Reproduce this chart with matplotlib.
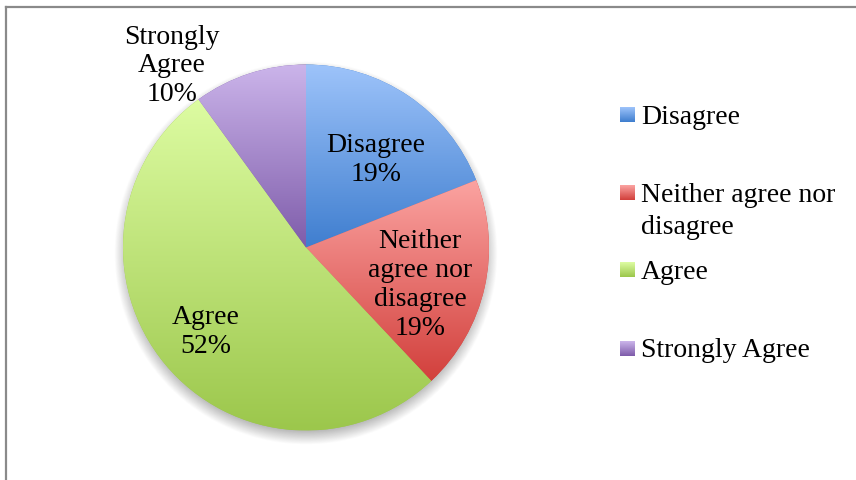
"""Survey response pie chart with gradient slices and a side legend."""

import matplotlib
matplotlib.use("Agg")
import matplotlib.pyplot as plt
import numpy as np
from matplotlib.colors import to_rgb
from matplotlib.lines import Line2D

# data
categories = ["Disagree", "Neither agree nor disagree", "Agree", "Strongly Agree"]
percents = [19, 19, 52, 10]
slice_labels = ["Disagree", "Neither\nagree nor\ndisagree", "Agree", "Strongly\nAgree"]
legend_labels = ["Disagree", "Neither agree nor\ndisagree", "Agree", "Strongly Agree"]

# gradient colours per slice (top, bottom)
top_colors = ["#9DC3FA", "#FBA3A1", "#DDFCA2", "#CBB4EA"]
bottom_colors = ["#3F7ECF", "#D2403C", "#9CC74C", "#7E5CAA"]

W, H = 856, 481
cx, cy, R = 306, H - 248.5, 183

# label centres in pixel coords (x, y from top)
label_pos = [(376, 160), (420, 285), (206, 332), (172, 66)]
legend_rows = [115.5, 193.5, 270.5, 349]

FONT = "Liberation Serif"
FS = 20

fig = plt.figure(figsize=(W / 100, H / 100), dpi=100)
ax = fig.add_axes([0, 0, 1, 1])

# soft shadow under the pie
blur = 9
off = 5
gx = np.linspace(cx - R - 30, cx + R + 30, 500)
gy = np.linspace(cy - R - 30, cy + R + 30, 500)
XX, YY = np.meshgrid(gx, gy)
dist = np.hypot(XX - cx, YY - (cy - off))
alpha = np.clip((R + blur - dist) / (2 * blur), 0, 1) * 0.55
shadow = np.zeros((500, 500, 4))
shadow[..., :3] = 0.35
shadow[..., 3] = alpha
ax.imshow(shadow, extent=(gx[0], gx[-1], gy[0], gy[-1]), origin="lower",
          aspect="auto", zorder=0, interpolation="bilinear")

wedges, _ = ax.pie(percents, startangle=90, counterclock=False, center=(cx, cy),
                   radius=R, wedgeprops=dict(linewidth=0))

for w, c_top, c_bot in zip(wedges, top_colors, bottom_colors):
    ext = w.get_path().get_extents()
    t = np.linspace(0, 1, 256)[:, None, None]
    grad = (1 - t) * np.array(to_rgb(c_top)) + t * np.array(to_rgb(c_bot))
    w.set_facecolor(c_bot)
    w.set_zorder(1)
    im = ax.imshow(grad, extent=(ext.x0, ext.x1, ext.y0, ext.y1), origin="upper",
                   aspect="auto", zorder=2, interpolation="bilinear")
    im.set_clip_path(w)

for lab, pct, (px, py) in zip(slice_labels, percents, label_pos):
    ax.text(px, H - py, f"{lab}\n{pct}%", ha="center", va="center",
            fontsize=FS, family=FONT, color="black", linespacing=1.2, zorder=5)

# legend: gradient swatch plus one text per line
for lab, row, c_top, c_bot in zip(legend_labels, legend_rows, top_colors, bottom_colors):
    t = np.linspace(0, 1, 32)[:, None, None]
    grad = (1 - t) * np.array(to_rgb(c_top)) + t * np.array(to_rgb(c_bot))
    ax.imshow(grad, extent=(620, 635, H - row - 7.5, H - row + 7.5), origin="upper",
              aspect="auto", zorder=3)
    for i, line in enumerate(lab.split("\n")):
        ax.text(641, H - row - 8.5 - i * 32, line, ha="left", va="baseline",
                fontsize=FS, family=FONT, color="black", zorder=5)

ax.set_xlim(0, W)
ax.set_ylim(0, H)
ax.set_aspect("auto")
ax.axis("off")

# chart area border
fig.add_artist(Line2D([5.5 / W, 1], [1 - 7.5 / H, 1 - 7.5 / H], color="#8a8a8a", lw=1.6))
fig.add_artist(Line2D([5.5 / W, 5.5 / W], [0, 1 - 7.5 / H], color="#8a8a8a", lw=1.6))

fig.savefig("out.png", dpi=100)
plt.close(fig)
